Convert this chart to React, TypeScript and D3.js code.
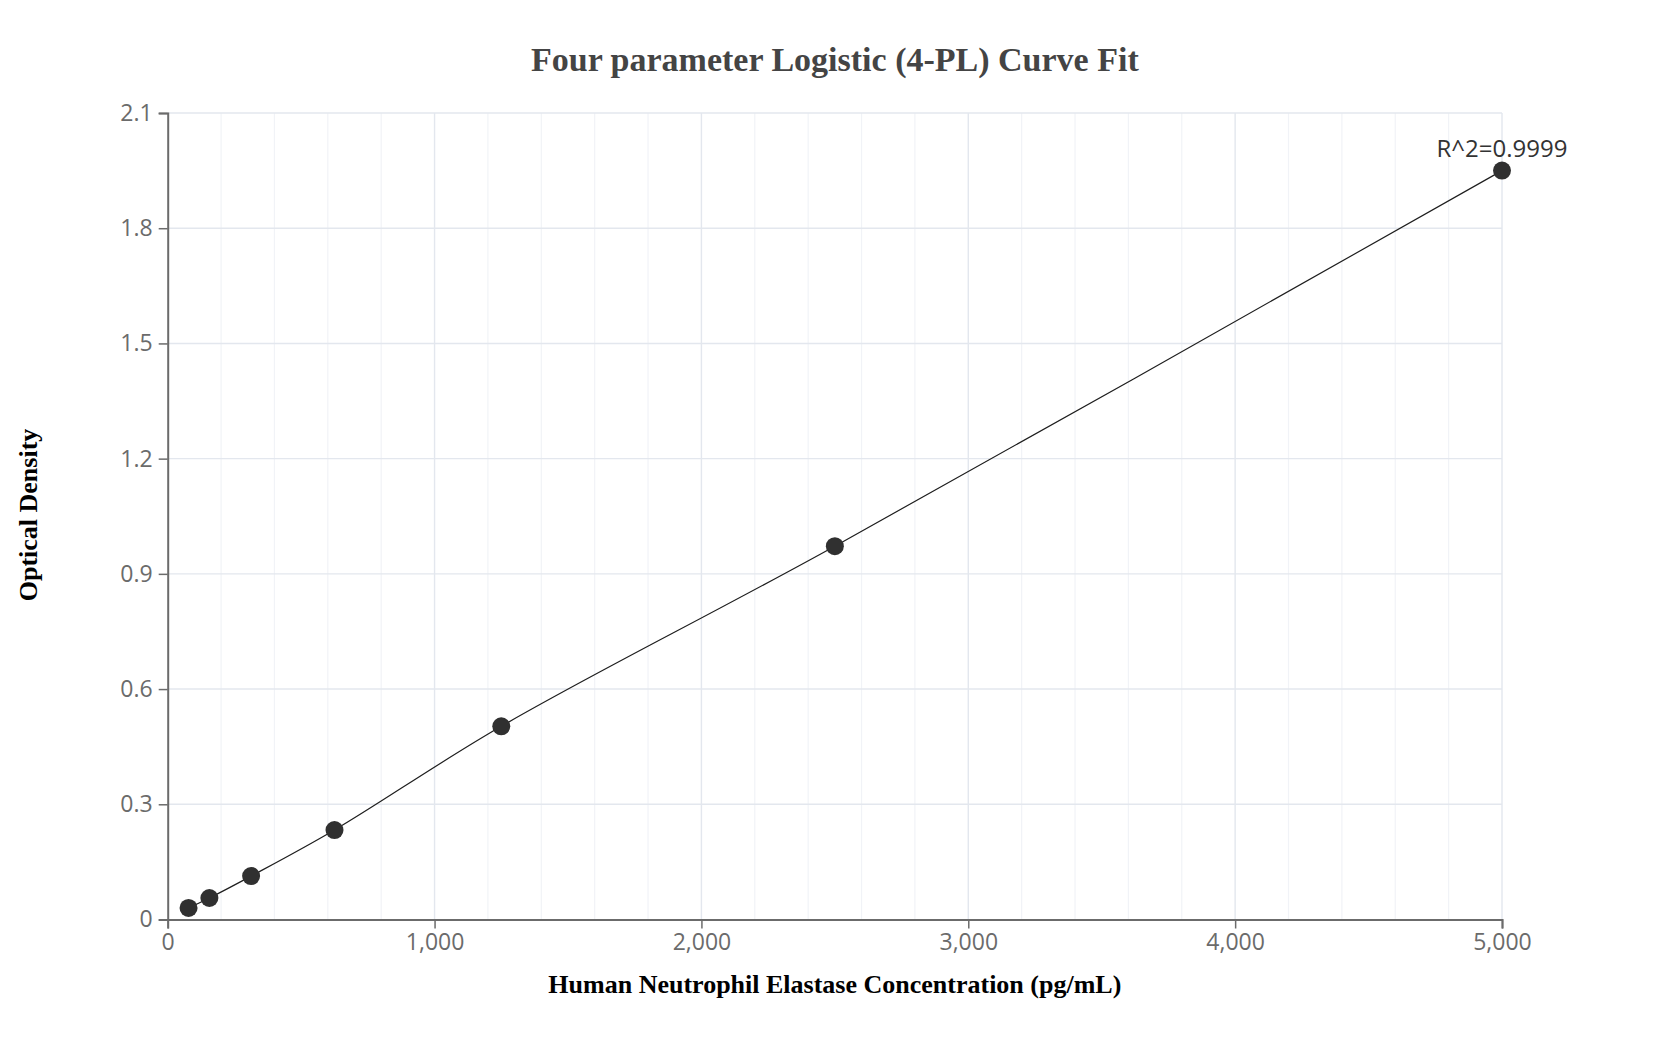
import { useEffect, useRef } from 'react';
import * as d3 from 'd3';

// Standard concentrations (pg/mL) and measured optical density
const concentrations = [78.125, 156.25, 312.5, 625, 1250, 2500, 5000];
const odValues = [0.03, 0.056, 0.113, 0.233, 0.503, 0.972, 1.95];

const xTicks = [0, 1000, 2000, 3000, 4000, 5000];
const yTicks = [0, 0.3, 0.6, 0.9, 1.2, 1.5, 1.8, 2.1];

const TITLE = 'Four parameter Logistic (4-PL) Curve Fit';
const X_LABEL = 'Human Neutrophil Elastase Concentration (pg/mL)';
const Y_LABEL = 'Optical Density';
const R2_LABEL = 'R^2=0.9999';

const WIDTH = 1668;
const HEIGHT = 1050;

const COLORS = {
  axis: '#6b6b6b',
  gridMajor: '#e3e7ee',
  gridMinor: '#f1f3f7',
  tick: '#6b6b6b',
  point: '#303030',
  line: '#1e1e1e',
  title: '#444444',
};

function StandardCurve() {
  const svgRef = useRef<SVGSVGElement>(null);

  useEffect(() => {
    if (!svgRef.current) return;
    const svg = d3.select(svgRef.current);
    svg.selectAll('*').remove();

    const margin = { top: 113, right: 166, bottom: 130.5, left: 167.7 };
    const innerWidth = WIDTH - margin.left - margin.right;
    const innerHeight = HEIGHT - margin.top - margin.bottom;

    const xScale = d3.scaleLinear().domain([0, 5000]).range([0, innerWidth]);
    const yScale = d3.scaleLinear().domain([0, 2.1]).range([innerHeight, 0]);

    svg.append('rect').attr('width', WIDTH).attr('height', HEIGHT).attr('fill', '#fff');

    const g = svg.append('g').attr('transform', `translate(${margin.left},${margin.top})`);

    // Minor vertical grid (every 200)
    g.selectAll('line.minor')
      .data(d3.range(200, 5000, 200).filter((d) => d % 1000 !== 0))
      .join('line')
      .attr('class', 'minor')
      .attr('x1', (d) => xScale(d))
      .attr('x2', (d) => xScale(d))
      .attr('y1', 0)
      .attr('y2', innerHeight)
      .attr('stroke', COLORS.gridMinor)
      .attr('stroke-width', 1.2);

    // Major grid
    g.selectAll('line.vgrid')
      .data(xTicks.slice(1))
      .join('line')
      .attr('class', 'vgrid')
      .attr('x1', (d) => xScale(d))
      .attr('x2', (d) => xScale(d))
      .attr('y1', 0)
      .attr('y2', innerHeight)
      .attr('stroke', COLORS.gridMajor)
      .attr('stroke-width', 1.4);

    g.selectAll('line.hgrid')
      .data(yTicks.slice(1))
      .join('line')
      .attr('class', 'hgrid')
      .attr('x1', 0)
      .attr('x2', innerWidth)
      .attr('y1', (d) => yScale(d))
      .attr('y2', (d) => yScale(d))
      .attr('stroke', COLORS.gridMajor)
      .attr('stroke-width', 1.4);

    // X axis
    const xAxis = g
      .append('g')
      .attr('transform', `translate(0,${innerHeight})`)
      .call(
        d3
          .axisBottom(xScale)
          .tickValues(xTicks)
          .tickSize(9)
          .tickPadding(5)
          .tickFormat((d) => d3.format(',')(d as number))
      );
    xAxis.select('.domain').attr('stroke', COLORS.axis).attr('stroke-width', 2);
    xAxis.selectAll('.tick line').attr('stroke', COLORS.axis).attr('stroke-width', 1.5);
    xAxis
      .selectAll('text')
      .attr('fill', COLORS.tick)
      .attr('font-family', '"Open Sans", sans-serif')
      .attr('font-size', 23);

    // Y axis
    const yAxis = g.append('g').call(
      d3
        .axisLeft(yScale)
        .tickValues(yTicks)
        .tickSize(9)
        .tickPadding(6)
        .tickFormat((d) => ((d as number) === 0 ? '0' : d3.format('.1f')(d as number)))
    );
    yAxis.select('.domain').attr('stroke', COLORS.axis).attr('stroke-width', 2);
    yAxis.selectAll('.tick line').attr('stroke', COLORS.axis).attr('stroke-width', 1.5);
    yAxis
      .selectAll('text')
      .attr('fill', COLORS.tick)
      .attr('font-family', '"Open Sans", sans-serif')
      .attr('font-size', 23);

    // Fitted curve through the standards
    const points = concentrations.map((c, i) => [c, odValues[i]] as [number, number]);
    const line = d3
      .line<[number, number]>()
      .x((d) => xScale(d[0]))
      .y((d) => yScale(d[1]))
      .curve(d3.curveCatmullRom.alpha(0.5));

    g.append('path')
      .datum(points)
      .attr('d', line)
      .attr('fill', 'none')
      .attr('stroke', COLORS.line)
      .attr('stroke-width', 1.2);

    // Points
    g.selectAll('circle')
      .data(points)
      .join('circle')
      .attr('cx', (d) => xScale(d[0]))
      .attr('cy', (d) => yScale(d[1]))
      .attr('r', 9)
      .attr('fill', COLORS.point);

    // R^2 annotation above the last point
    const last = points[points.length - 1];
    g.append('text')
      .attr('x', xScale(last[0]))
      .attr('y', yScale(last[1]) - 14)
      .attr('text-anchor', 'middle')
      .attr('fill', '#333')
      .attr('font-family', '"Open Sans", sans-serif')
      .attr('font-size', 24)
      .text(R2_LABEL);

    // Title and axis labels
    svg
      .append('text')
      .attr('x', margin.left + innerWidth / 2)
      .attr('y', 71)
      .attr('text-anchor', 'middle')
      .attr('fill', COLORS.title)
      .attr('font-family', '"Liberation Serif", "Times New Roman", serif')
      .attr('font-weight', 'bold')
      .attr('font-size', 34)
      .text(TITLE);

    svg
      .append('text')
      .attr('x', margin.left + innerWidth / 2)
      .attr('y', 993)
      .attr('text-anchor', 'middle')
      .attr('fill', '#000')
      .attr('font-family', '"Liberation Serif", "Times New Roman", serif')
      .attr('font-weight', 'bold')
      .attr('font-size', 26)
      .text(X_LABEL);

    svg
      .append('text')
      .attr('transform', `translate(37,515) rotate(-90)`)
      .attr('text-anchor', 'middle')
      .attr('fill', '#000')
      .attr('font-family', '"Liberation Serif", "Times New Roman", serif')
      .attr('font-weight', 'bold')
      .attr('font-size', 26)
      .text(Y_LABEL);
  }, []);

  return <svg ref={svgRef} width={WIDTH} height={HEIGHT} style={{ display: 'block' }} />;
}

export default function App() {
  return (
    <>
      <style>{'body{margin:0;}'}</style>
      <StandardCurve />
    </>
  );
}
